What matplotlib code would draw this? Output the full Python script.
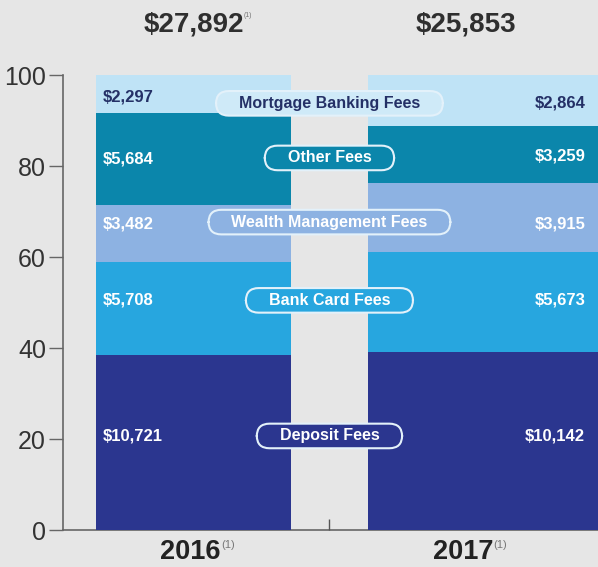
import numpy as np
import matplotlib
matplotlib.use("Agg")
from matplotlib import pyplot as plt

# data (fees in $ thousands)
years = ["2016", "2017"]
totals = ["$27,892", "$25,853"]
categories = ["Deposit Fees", "Bank Card Fees", "Wealth Management Fees",
              "Other Fees", "Mortgage Banking Fees"]
fees_2016 = [10721, 5708, 3482, 5684, 2297]
fees_2017 = [10142, 5673, 3915, 3259, 2864]
yticks = [0, 20, 40, 60, 80, 100]

colors = ["#2b368f", "#27a6df", "#8db2e2", "#0b86ab", "#bfe3f6"]
pill_face = ["#2b368f", "#27a6df", "#8db2e2", "#0b86ab", "#cfeaf8"]
txt_col = ["white", "white", "white", "white", "#243066"]
# label placement (layout only)
label_y = [20.7, 50.5, 67.7, 81.8, 93.8]
value_y = [[20.7, 50.5, 67.3, 81.6, 95.2],
           [20.7, 50.5, 67.3, 82.2, 93.8]]

bg = "#e6e6e6"
plt.rcParams['font.family'] = ['Liberation Sans', 'DejaVu Sans']

fig = plt.figure(figsize=(5.98, 5.67), dpi=100, facecolor=bg)
ax = fig.add_axes([0.105, 0.065, 0.895, 0.8025])
ax.set_facecolor(bg)

vals = np.array([fees_2016, fees_2017], dtype=float)
pct = vals / vals.sum(axis=1, keepdims=True) * 100

w = 0.717
lefts = [-w / 2, 1 - w / 2]
widths = [w, 1.2]
bottoms = np.zeros(2)
for k in range(len(categories)):
    for i in range(2):
        ax.bar(lefts[i], pct[i, k], width=widths[i], bottom=bottoms[i],
               align='edge', color=colors[k], zorder=1, linewidth=0)
        s = "${:,}".format(int(vals[i, k]))
        if i == 0:
            ax.text(lefts[0] + 0.025, value_y[i][k], s, ha='left', va='center',
                    color=txt_col[k], fontsize=12, fontweight='bold', zorder=5)
        else:
            ax.text(1.44, value_y[i][k], s, ha='right', va='center',
                    color=txt_col[k], fontsize=12, fontweight='bold', zorder=5)
    bottoms = bottoms + pct[:, k]

# category pills in the gap
for k, name in enumerate(categories):
    ax.text(0.5, label_y[k], "    " + name + "    ", ha='center', va='center',
            color=txt_col[k], fontsize=11.5, fontweight='bold', zorder=6,
            bbox=dict(boxstyle='round,pad=0.3,rounding_size=0.8',
                      facecolor=pill_face[k], edgecolor='#e3f1fa', linewidth=1.5))

ax.set_xlim(-0.48, 1.487)
ax.set_ylim(0, 100)
ax.set_yticks(yticks)
ax.set_yticklabels([str(t) for t in yticks], fontsize=18, color='#333333')
ax.tick_params(axis='y', length=10, width=1, color='#666666', pad=2)
ax.set_xticks([0.5])
ax.set_xticklabels([""])
ax.tick_params(axis='x', direction='in', length=8, width=1, color='#555555')
for side in ['top', 'right']:
    ax.spines[side].set_visible(False)
for side in ['left', 'bottom']:
    ax.spines[side].set_color('#666666')
    ax.spines[side].set_linewidth(1.2)
    ax.spines[side].set_zorder(0.5)

# totals above and years below
for i in range(2):
    t = ax.text(i, 1.112, totals[i], transform=ax.get_xaxis_transform(),
                ha='center', va='center', fontsize=20, fontweight='bold',
                color='#2f2f2f', clip_on=False)
    if i == 0:
        ax.annotate("(1)", xy=(1.0, 0.95), xycoords=t, fontsize=5,
                    color='#777777', ha='left', va='top')
    y = ax.text(i - 0.01, -0.048, years[i], transform=ax.get_xaxis_transform(),
                ha='center', va='center', fontsize=19.5, fontweight='bold',
                color='#222222', clip_on=False)
    ax.annotate("(1)", xy=(1.0, 0.95), xycoords=y, fontsize=8,
                color='#777777', ha='left', va='top')

fig.savefig("out.png", dpi=100, facecolor=bg)
